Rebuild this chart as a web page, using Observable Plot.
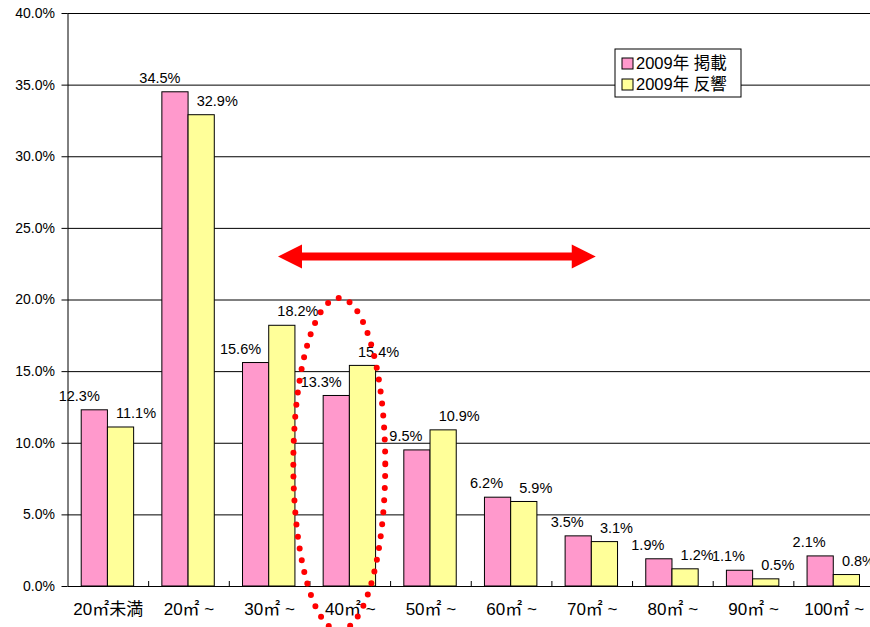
<!DOCTYPE html>
<html><head><meta charset="utf-8">
<script src="https://cdn.jsdelivr.net/npm/d3@7"></script>
<script src="https://cdn.jsdelivr.net/npm/@observablehq/plot@0.6"></script>
<style>
body{margin:0;background:#fff}
#chart{width:870px;height:627px;overflow:hidden}
</style>
</head><body><div id="chart"></div>
<script>
const categories = ["20㎡未満","20㎡ ~","30㎡ ~","40㎡ ~","50㎡ ~","60㎡ ~","70㎡ ~","80㎡ ~","90㎡ ~","100㎡ ~"];
const seriesNames = ["2009年 掲載","2009年 反響"];
const listed = [12.3,34.5,15.6,13.3,9.5,6.2,3.5,1.9,1.1,2.1];
const response = [11.1,32.9,18.2,15.4,10.9,5.9,3.1,1.2,0.5,0.8];
const yTicks = [0,5,10,15,20,25,30,35,40];
const colors = ["#FF99CC","#FFFF99"];

const rows = categories.flatMap((c,i)=>[
  {i, c, s:0, v:listed[i]},
  {i, c, s:1, v:response[i]}
]);
const slotPad = 0.17, barW = 0.325;
const bx1 = d => d.i + slotPad + d.s*barW;
const bx2 = d => d.i + slotPad + (d.s+1)*barW;
const bxc = d => d.i + slotPad + (d.s+0.5)*barW;
const font = "'Liberation Sans', Arial, 'Noto Sans CJK JP', sans-serif";

const chart = Plot.plot({
  width: 870, height: 627,
  marginLeft: 67.5, marginRight: 0, marginTop: 13, marginBottom: 41,
  style: {fontFamily: font, color: "#000", background: "#fff", overflow: "visible"},
  x: {domain: [0, 10], range: [67.5, 874], axis: null},
  y: {domain: [0, 40], axis: null},
  marks: [
    Plot.ruleY(yTicks, {stroke: "#000", strokeWidth: 1}),
    Plot.ruleX([0], {stroke: "#000"}),
    Plot.ruleX(d3.range(1, 11), {y1: 0, y2: 0, insetBottom: 5, stroke: "#000"}),
    Plot.axisY(yTicks, {tickFormat: d => d.toFixed(1) + "%", tickSize: 6, tickPadding: 7, fontSize: 14, label: null, stroke: "#000"}),
    Plot.rectY(rows, {x1: bx1, x2: bx2, y1: 0, y2: "v", fill: d => colors[d.s], stroke: "#000", strokeWidth: 1}),
    Plot.text(rows.filter(d => d.s === 0), {x: bxc, y: "v", text: d => d.v.toFixed(1) + "%", dy: -14, dx: 5, textAnchor: "end", fontSize: 14.5, fill: "#000"}),
    Plot.text(rows.filter(d => d.s === 1), {x: bxc, y: "v", text: d => d.v.toFixed(1) + "%", dy: -14, dx: -5, textAnchor: "start", fontSize: 14.5, fill: "#000"}),
    Plot.text(categories, {x: (d, i) => i + 0.5, y: 0, dy: 23, text: d => d, fontSize: 17, fill: "#000", fontFamily: "'Liberation Sans', 'Noto Sans CJK JP', sans-serif"})
  ]
});
document.getElementById("chart").append(chart);

// annotations
const sx = chart.scale("x"), sy = chart.scale("y");
const svg = d3.select(chart);
// double arrow
const ax1 = sx.apply(2.61), ax2 = sx.apply(6.55), ay = sy.apply(23.0);
const sh = 4, hl = 24, hh = 12;
svg.append("path")
  .attr("d", `M${ax1},${ay} L${ax1+hl},${ay-hh} L${ax1+hl},${ay-sh} L${ax2-hl},${ay-sh} L${ax2-hl},${ay-hh} L${ax2},${ay} L${ax2-hl},${ay+hh} L${ax2-hl},${ay+sh} L${ax1+hl},${ay+sh} L${ax1+hl},${ay+hh} Z`)
  .attr("fill", "#FF0000");
// dotted ellipse
const ecx = sx.apply(3.37), ecy = sy.apply(8.5);
const erx = sx.apply(3.37 + 0.57) - ecx, ery = ecy - sy.apply(8.5 + 11.6);
svg.append("ellipse")
  .attr("cx", ecx).attr("cy", ecy).attr("rx", erx).attr("ry", ery)
  .attr("fill", "none").attr("stroke", "#FF0000").attr("stroke-width", 6)
  .attr("stroke-linecap", "round").attr("stroke-dasharray", "0 12");
// legend
const lg = svg.append("g").attr("transform", "translate(615,49)");
lg.append("rect").attr("width", 126).attr("height", 48).attr("fill", "#fff").attr("stroke", "#000");
seriesNames.forEach((name, k) => {
  const yy = 14.5 + k * 21;
  lg.append("rect").attr("x", 7).attr("y", yy - 5.5).attr("width", 11).attr("height", 11)
    .attr("fill", colors[k]).attr("stroke", "#000");
  lg.append("text").attr("x", 21).attr("y", yy).attr("dy", "0.36em")
    .attr("text-anchor", "start")
    .attr("font-size", 16.5).attr("font-family", font).attr("fill", "#000").text(name);
});
</script>
</body></html>
